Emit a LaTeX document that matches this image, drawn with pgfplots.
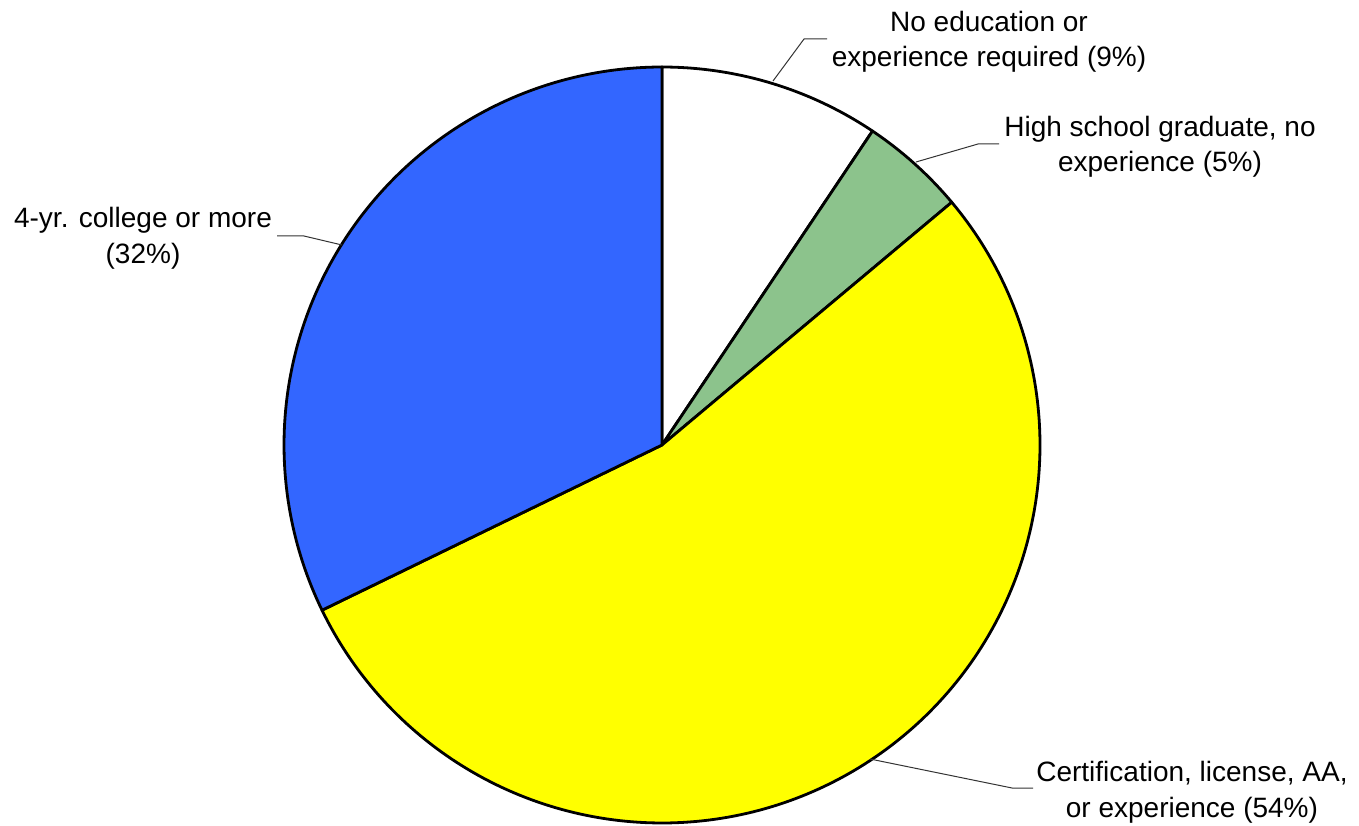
\documentclass[border=0pt]{standalone}
\usepackage{pgfplots}
\pgfplotsset{compat=1.18}
\usepackage{fontspec}
\setmainfont{Liberation Sans}
\definecolor{pblue}{RGB}{51,102,255}
\definecolor{pyellow}{RGB}{255,255,0}
\definecolor{pgreen}{RGB}{140,195,140}
% shares in percent (clockwise from 12 o'clock)
\def\vA{9.4}  % No education or experience required
\def\vB{4.5}  % High school graduate, no experience
\def\vC{53.9} % Certification, license, AA, or experience
\def\vD{32.2} % 4-yr. college or more
\pgfmathsetmacro{\aO}{90}
\pgfmathsetmacro{\aA}{\aO-3.6*\vA}
\pgfmathsetmacro{\aB}{\aA-3.6*\vB}
\pgfmathsetmacro{\aC}{\aB-3.6*\vC}
\pgfmathsetmacro{\aD}{\aC-3.6*\vD}
\begin{document}
\begin{tikzpicture}
\begin{axis}[
  name=pie,
  scale only axis, width=679.5pt, height=412.5pt,
  xmin=-1.75132, xmax=1.84392, ymin=-1.00529, ymax=1.17725,
  axis lines=none, ticks=none, clip=false,
  every axis plot/.append style={line width=1.4pt, draw=black, line join=round},
]
\addplot[fill=white, domain=\aA:\aO, samples=60] ({cos(x)},{sin(x)}) -- (axis cs:0,0) -- cycle;
\addplot[fill=pgreen, domain=\aB:\aA, samples=40] ({cos(x)},{sin(x)}) -- (axis cs:0,0) -- cycle;
\addplot[fill=pyellow, domain=\aC:\aB, samples=200] ({cos(x)},{sin(x)}) -- (axis cs:0,0) -- cycle;
\addplot[fill=pblue, domain=\aD:\aC, samples=120] ({cos(x)},{sin(x)}) -- (axis cs:0,0) -- cycle;

\tikzset{lab/.style={align=center, inner sep=0pt, font=\fontsize{14}{17.8}\selectfont}}
\tikzset{lead/.style={draw=black!80, line width=0.5pt}}
% leader lines (px -> axis: X=(px-662)/378, Y=(445-py)/378)
\draw[lead] (axis cs:0.2937,0.9630) -- (axis cs:0.3757,1.0741) -- (axis cs:0.4365,1.0741);
\draw[lead] (axis cs:0.6720,0.7487) -- (axis cs:0.8360,0.7963) -- (axis cs:0.8915,0.7963);
\draw[lead] (axis cs:-0.8466,0.5291) -- (axis cs:-0.9471,0.5529) -- (axis cs:-1.0185,0.5529);
\draw[lead] (axis cs:0.5503,-0.8307) -- (axis cs:0.9259,-0.9074) -- (axis cs:0.9815,-0.9074);

\node[lab] at (axis cs:0.8651,1.0670) {No education or\\experience required (9\%)};
\node[lab] at (axis cs:1.3175,0.7890) {High school graduate, no\\experience (5\%)};
\node[lab] at (axis cs:-1.3730,0.5470) {4-yr. college or more\\(32\%)};
\node[lab] at (axis cs:1.4020,-0.9190) {Certification, license, AA,\\or experience (54\%)};
\end{axis}
\pgfresetboundingbox
\path (pie.south west) rectangle (pie.north east);
\end{tikzpicture}
\end{document}
